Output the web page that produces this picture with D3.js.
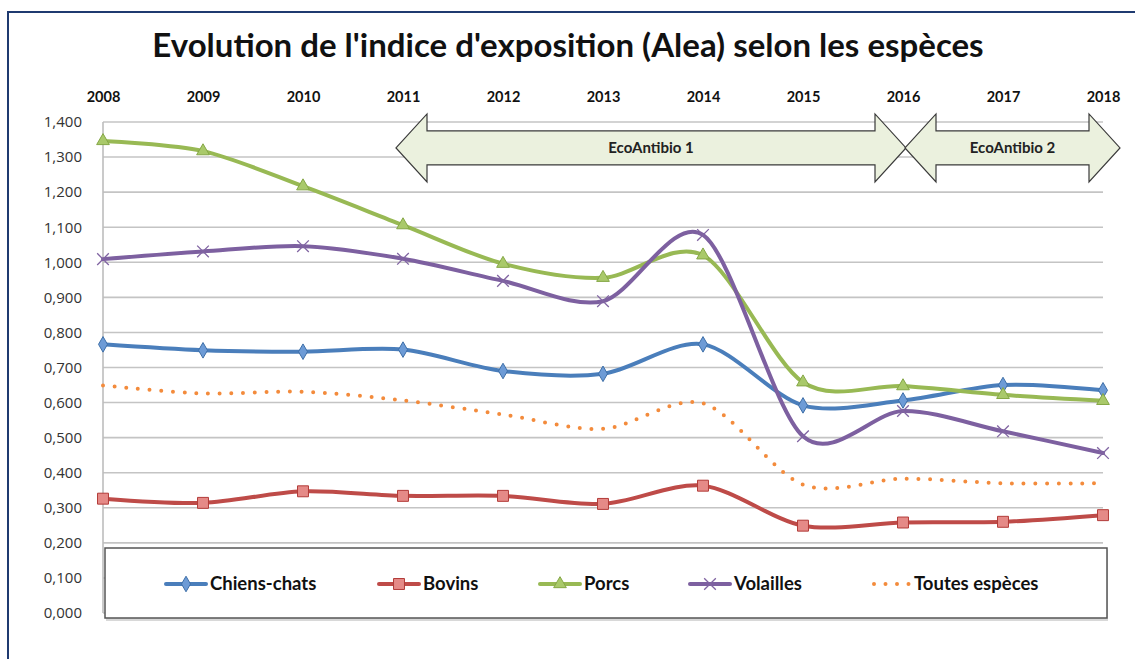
<!DOCTYPE html>
<html>
<head>
<meta charset="utf-8">
<script src="https://cdn.jsdelivr.net/npm/d3@7"></script>
<style>
  body { margin: 0; background: #fff; }
  text { font-family: Lato, "Open Sans", sans-serif; }
</style>
</head>
<body>
<div id="chart"></div>
<script>
// values
var years = [2008, 2009, 2010, 2011, 2012, 2013, 2014, 2015, 2016, 2017, 2018];
var chiensChats = [0.766, 0.749, 0.745, 0.751, 0.690, 0.682, 0.766, 0.592, 0.606, 0.650, 0.635];
var bovins = [0.326, 0.314, 0.347, 0.334, 0.334, 0.311, 0.363, 0.249, 0.258, 0.260, 0.279];
var porcs = [1.346, 1.317, 1.217, 1.106, 0.996, 0.956, 1.020, 0.658, 0.647, 0.622, 0.605];
var volailles = [1.009, 1.031, 1.046, 1.010, 0.947, 0.889, 1.078, 0.504, 0.576, 0.518, 0.456];
var toutes = [0.649, 0.626, 0.631, 0.606, 0.566, 0.525, 0.598, 0.366, 0.383, 0.370, 0.370];
var seriesNames = ["Chiens-chats", "Bovins", "Porcs", "Volailles", "Toutes espèces"];
var yTicks = [0, 0.1, 0.2, 0.3, 0.4, 0.5, 0.6, 0.7, 0.8, 0.9, 1.0, 1.1, 1.2, 1.3, 1.4];
var periodLabels = ["EcoAntibio 1", "EcoAntibio 2"];
var periodStart = [2010.93, 2016.02];
var periodEnd = [2016.03, 2018.17];

(function(){
  'use strict'
  var W = 1135, H = 659;
  var margin = {top: 122, left: 103};
  var width = 1000, height = 491;

  var svg = d3.select("#chart").append("svg")
    .attr("width", W).attr("height", H);

  // frame (only top and left edges are visible in the crop)
  svg.append("path")
    .attr("d", "M8," + H + " L8,12 L" + W + ",12")
    .attr("fill", "none").attr("stroke", "#1f3a70").attr("stroke-width", 2);

  svg.append("text")
    .attr("x", 568).attr("y", 57)
    .attr("text-anchor", "middle")
    .attr("font-size", 33).attr("font-weight", "bold")
    .attr("fill", "#111")
    .text("Evolution de l'indice d'exposition (Alea) selon les espèces");

  var g = svg.append("g").attr("transform", "translate(" + margin.left + "," + margin.top + ")");

  var x = d3.scaleLinear().domain([2008, 2018]).range([0, width]);
  var y = d3.scaleLinear().domain([0, 1.4]).range([height, 0]);

  // grid
  g.selectAll("line.grid").data(yTicks).enter().append("line")
    .attr("class", "grid")
    .attr("x1", 0).attr("x2", width)
    .attr("y1", function(d){ return y(d); }).attr("y2", function(d){ return y(d); })
    .attr("stroke", "#c4c4c4").attr("stroke-width", 1.6);

  g.append("line")
    .attr("x1", 0).attr("x2", 0).attr("y1", 0).attr("y2", height)
    .attr("stroke", "#bdbdbd").attr("stroke-width", 1.6);

  var yAxis = d3.axisLeft(y).tickValues(yTicks).tickSize(0).tickPadding(21)
    .tickFormat(function(d){ return d3.format(",.3f")(d).replace(".", ","); });
  var ya = g.append("g").call(yAxis);
  ya.select(".domain").remove();
  ya.selectAll("text").attr("font-size", 15).attr("fill", "#333")
    .style("font-family", "'Open Sans', sans-serif");

  var xAxis = d3.axisTop(x).tickValues(years).tickSize(0).tickPadding(20).tickFormat(d3.format("d"));
  var xa = g.append("g").call(xAxis);
  xa.select(".domain").remove();
  xa.selectAll("text").attr("font-size", 14.5).attr("font-weight", "bold").attr("fill", "#111");

  // period arrows
  var cy = y(1.326), shaftH = 17, headH = 34, headW = 31;
  periodLabels.forEach(function(lbl, i){
    var x0 = x(periodStart[i]), x1 = x(periodEnd[i]);
    var pts = [
      [x0, cy], [x0 + headW, cy - headH], [x0 + headW, cy - shaftH],
      [x1 - headW, cy - shaftH], [x1 - headW, cy - headH], [x1, cy],
      [x1 - headW, cy + headH], [x1 - headW, cy + shaftH],
      [x0 + headW, cy + shaftH], [x0 + headW, cy + headH]
    ];
    g.append("path")
      .attr("d", "M" + pts.join("L") + "Z")
      .attr("fill", "#ebf1de").attr("stroke", "#3a3a3a").attr("stroke-width", 1.2);
    g.append("text")
      .attr("x", (x0 + x1) / 2).attr("y", cy + 5)
      .attr("text-anchor", "middle")
      .attr("font-size", 15).attr("font-weight", "bold").attr("fill", "#222")
      .text(lbl);
  });

  var series = [
    {name: seriesNames[0], values: chiensChats, color: "#4a7ebb", fill: "#6d9bd6", stroke: "#3e6fa8", sym: d3.symbolDiamond, size: 70},
    {name: seriesNames[1], values: bovins, color: "#be4b48", fill: "#e58a87", stroke: "#b23b38", sym: d3.symbolSquare, size: 120},
    {name: seriesNames[2], values: porcs, color: "#98b954", fill: "#a9c96a", stroke: "#85a746", sym: d3.symbolTriangle, size: 70},
    {name: seriesNames[3], values: volailles, color: "#7d60a0", fill: "none", stroke: "#8064a2", sym: d3.symbolX, size: 90},
    {name: seriesNames[4], values: toutes, color: "#f38b3c", dotted: true}
  ];

  var line = d3.line()
    .x(function(d, i){ return x(years[i]); })
    .y(function(d){ return y(d); })
    .curve(d3.curveCardinal.tension(0.1));

  // dotted line first, then the solid ones
  var order = [4, 1, 0, 2, 3];
  order.forEach(function(k){
    var s = series[k];
    var p = g.append("path").datum(s.values)
      .attr("d", line)
      .attr("fill", "none")
      .attr("stroke", s.color)
      .attr("stroke-width", 4)
      .attr("stroke-linecap", "round");
    if (s.dotted) {
      p.attr("stroke-dasharray", "0,11.7");
      return;
    }
    g.selectAll(null).data(s.values).enter().append("path")
      .attr("transform", function(d, i){ return "translate(" + x(years[i]) + "," + y(d) + ")"; })
      .attr("d", d3.symbol().type(s.sym).size(s.size))
      .attr("fill", s.fill)
      .attr("stroke", s.stroke)
      .attr("stroke-width", s.sym === d3.symbolX ? 1.3 : 1);
  });

  // legend
  var lg = svg.append("g");
  lg.append("rect")
    .attr("x", 106).attr("y", 550).attr("width", 1002).attr("height", 71)
    .attr("fill", "#d8d8d8");
  lg.append("rect")
    .attr("x", 105).attr("y", 548).attr("width", 1002).attr("height", 70)
    .attr("fill", "#fff").attr("stroke", "#555").attr("stroke-width", 1.5);

  var legendX = [166, 379, 540, 690, 870];
  var ly = 584;
  series.forEach(function(s, i){
    var lx = legendX[i];
    lg.append("line")
      .attr("x1", lx).attr("x2", lx + 40).attr("y1", ly).attr("y2", ly)
      .attr("stroke", s.color).attr("stroke-width", 4)
      .attr("stroke-linecap", "round")
      .attr("stroke-dasharray", s.dotted ? "0,11.5" : null)
      .attr("transform", s.dotted ? "translate(4,0)" : null);
    if (!s.dotted) {
      lg.append("path")
        .attr("transform", "translate(" + (lx + 20) + "," + ly + ")")
        .attr("d", d3.symbol().type(s.sym).size(s.size))
        .attr("fill", s.fill).attr("stroke", s.stroke)
        .attr("stroke-width", s.sym === d3.symbolX ? 1.3 : 1);
    }
    lg.append("text")
      .attr("x", lx + 44).attr("y", ly + 6)
      .attr("font-size", 18.5).attr("font-weight", "bold").attr("fill", "#111")
      .text(s.name);
  });
})();
</script>
</body>
</html>
